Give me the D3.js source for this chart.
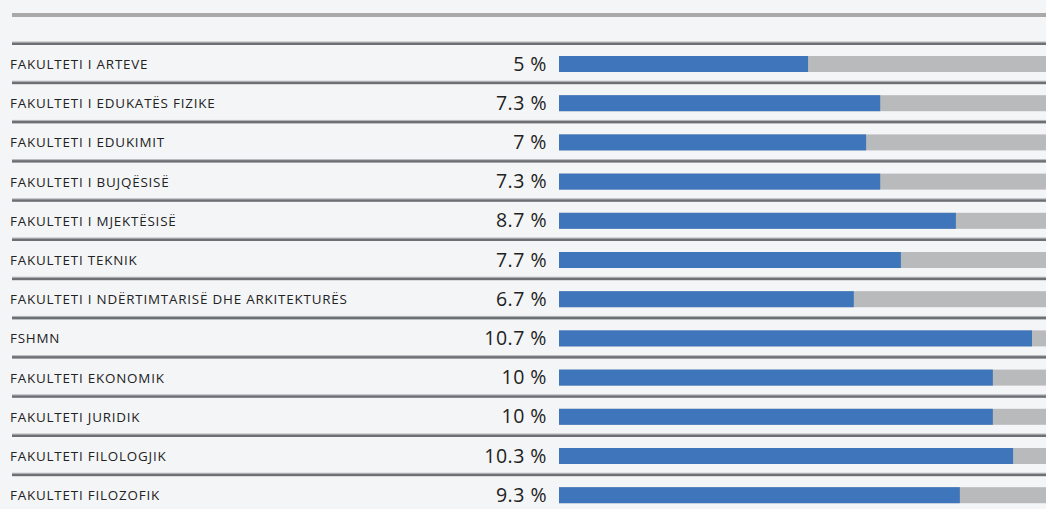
<!DOCTYPE html>
<html>
<head>
<meta charset="utf-8">
<script src="https://cdn.jsdelivr.net/npm/d3@7"></script>
<style>
  html, body { margin: 0; padding: 0; background: #f4f5f7; overflow: hidden; }
  svg { display: block; }
  .label { font-family: "Open Sans", sans-serif; font-size: 13.4px; letter-spacing: 0.8px; fill: #222; }
  .value { font-family: "Open Sans", sans-serif; font-size: 19.5px; letter-spacing: 0.5px; fill: #222; }
</style>
</head>
<body>
<svg id="chart" width="1046" height="509"></svg>
<script>
const faculties = [
  "FAKULTETI I ARTEVE",
  "FAKULTETI I EDUKATËS FIZIKE",
  "FAKULTETI I EDUKIMIT",
  "FAKULTETI I BUJQËSISË",
  "FAKULTETI I MJEKTËSISË",
  "FAKULTETI TEKNIK",
  "FAKULTETI I NDËRTIMTARISË DHE ARKITEKTURËS",
  "FSHMN",
  "FAKULTETI EKONOMIK",
  "FAKULTETI JURIDIK",
  "FAKULTETI FILOLOGJIK",
  "FAKULTETI FILOZOFIK"
];
// percentages as printed
const shares = [5, 7.3, 7, 7.3, 8.7, 7.7, 6.7, 10.7, 10, 10, 10.3, 9.3];
// bar lengths as drawn (they don't follow the printed numbers exactly)
const barShares = [5.66, 7.3, 6.98, 7.3, 9.02, 7.77, 6.7, 10.75, 9.86, 9.86, 10.32, 9.11];

const rows = faculties.map((name, i) => ({ name, share: shares[i], bar: barShares[i] }));

const width = 1046, height = 509;
const svg = d3.select('#chart');

const rowStep = 39.2;
const firstRule = 43;

const y = d3.scaleBand()
  .domain(faculties)
  .range([firstRule, firstRule + rowStep * faculties.length])
  .paddingInner(0)
  .paddingOuter(0);

const x = d3.scaleLinear()
  .domain([0, 12])
  .range([559, 559 + 528]);

// heavy rule at the top
svg.append('rect')
  .attr('x', 12).attr('y', 13)
  .attr('width', width - 12).attr('height', 4)
  .attr('fill', '#a9a9aa');

const row = svg.selectAll('g.row')
  .data(rows)
  .join('g')
  .attr('class', 'row')
  .attr('transform', d => `translate(0,${y(d.name)})`);

// separator above each row
row.append('rect')
  .attr('x', 12).attr('y', -1.5)
  .attr('width', width - 12).attr('height', 1)
  .attr('fill', '#b4b6b9');
row.append('rect')
  .attr('x', 12).attr('y', -0.5)
  .attr('width', width - 12).attr('height', 2.5)
  .attr('fill', '#6c7075');

row.append('text')
  .attr('class', 'label')
  .attr('x', 10)
  .attr('y', 26)
  .text(d => d.name);

row.append('text')
  .attr('class', 'value')
  .attr('x', 547)
  .attr('y', 27.5)
  .attr('text-anchor', 'end')
  .text(d => `${d.share} %`);

// grey track
row.append('rect')
  .attr('x', x(0))
  .attr('y', 13)
  .attr('width', x(12) - x(0))
  .attr('height', 16)
  .attr('fill', '#b9babb');

// blue bar
row.append('rect')
  .attr('x', x(0))
  .attr('y', 13)
  .attr('width', d => x(d.bar) - x(0))
  .attr('height', 16)
  .attr('fill', '#3e75bb');
</script>
</body>
</html>
